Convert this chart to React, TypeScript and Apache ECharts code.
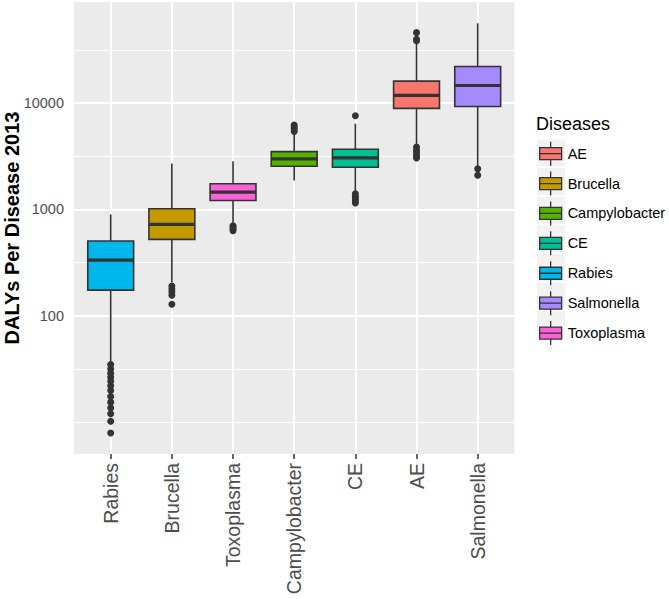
import React, { useEffect, useRef } from 'react';
import * as echarts from 'echarts';

// ---- data (raw DALY values) ----
const X_CATEGORIES = ['Rabies', 'Brucella', 'Toxoplasma', 'Campylobacter', 'CE', 'AE', 'Salmonella'];
const WHISKER_LOW = [36, 205, 750, 1870, 1480, 3920, 2550];
const Q1 = [174, 522, 1213, 2545, 2490, 8900, 9290];
const MEDIAN = [334, 723, 1453, 2985, 3048, 11780, 14620];
const Q3 = [505, 1014, 1740, 3494, 3673, 16070, 22030];
const WHISKER_HIGH = [898, 2700, 2837, 5200, 6400, 36500, 56200];

const OUTLIERS_RABIES = [34.7, 31.6, 28.8, 26.4, 24.2, 22.0, 19.8, 17.4, 15.4, 13.6, 12.0, 10.2, 7.9];
const OUTLIERS_BRUCELLA = [190, 178, 167, 156, 128];
const OUTLIERS_TOXOPLASMA = [700, 680, 655, 630];
const OUTLIERS_CAMPYLOBACTER = [5400, 5700, 5950, 6200];
const OUTLIERS_CE = [7600, 1400, 1330, 1260, 1200, 1150];
const OUTLIERS_AE = [45900, 39800, 38600, 3850, 3600, 3400, 3200, 3050];
const OUTLIERS_SALMONELLA = [2404, 2094];

const LEGEND_ORDER = ['AE', 'Brucella', 'Campylobacter', 'CE', 'Rabies', 'Salmonella', 'Toxoplasma'];
const LEGEND_COLORS = ['#F8766D', '#C49A00', '#53B400', '#00C094', '#00B6EB', '#A58AFF', '#FB61D7'];

const Y_LABEL_VALUES = [100, 1000, 10000];
const Y_MINOR_VALUES = [10, 31.62, 316.2, 3162, 31623];
const Y_MIN = 5.01;
const Y_MAX = 89125;
const Y_TITLE = 'DALYs Per Disease 2013';
const LEGEND_TITLE = 'Diseases';

// ---- styling ----
const FONT = '"Liberation Sans", Arial, Helvetica, sans-serif';
const DARK = '#333333';
const BOX_WIDTH = 0.75;
const LEGEND_LEFT = 539;
const LEGEND_TOP = 141;
const LEGEND_ITEM = 24;
const LEGEND_GAP = 4.6;

const lg = (v: number) => Math.log10(v);

export default function App() {
  const ref = useRef<HTMLDivElement>(null);

  useEffect(() => {
    if (!ref.current) return;
    const chart = echarts.init(ref.current, undefined, { renderer: 'svg' });

    const outlierLists = [
      OUTLIERS_RABIES,
      OUTLIERS_BRUCELLA,
      OUTLIERS_TOXOPLASMA,
      OUTLIERS_CAMPYLOBACTER,
      OUTLIERS_CE,
      OUTLIERS_AE,
      OUTLIERS_SALMONELLA,
    ];
    const outlierData: number[][] = [];
    outlierLists.forEach((list, i) => list.forEach((v) => outlierData.push([i, lg(v)])));

    const renderBox = (params: any, api: any) => {
      const x = api.value(0);
      const lo = api.coord([x, api.value(1)]);
      const q1 = api.coord([x, api.value(2)]);
      const med = api.coord([x, api.value(3)]);
      const q3 = api.coord([x, api.value(4)]);
      const hi = api.coord([x, api.value(5)]);
      const w = api.size([BOX_WIDTH, 0])[0];
      const cx = lo[0];
      const left = cx - w / 2;
      const fill = api.visual('color');
      return {
        type: 'group',
        children: [
          { type: 'line', shape: { x1: cx, y1: hi[1], x2: cx, y2: q3[1] }, style: { stroke: DARK, lineWidth: 1.6 } },
          { type: 'line', shape: { x1: cx, y1: q1[1], x2: cx, y2: lo[1] }, style: { stroke: DARK, lineWidth: 1.6 } },
          {
            type: 'rect',
            shape: { x: left, y: q3[1], width: w, height: q1[1] - q3[1] },
            style: { fill, stroke: DARK, lineWidth: 1.6 },
          },
          {
            type: 'line',
            shape: { x1: left, y1: med[1], x2: left + w, y2: med[1] },
            style: { stroke: DARK, lineWidth: 3.2 },
          },
        ],
      };
    };

    const boxSeries = X_CATEGORIES.map((name, i) => {
      const color = LEGEND_COLORS[LEGEND_ORDER.indexOf(name)];
      return {
        type: 'custom',
        name,
        z: 3,
        itemStyle: { color },
        encode: { x: 0, y: [1, 2, 3, 4, 5] },
        renderItem: renderBox,
        data: [[i, lg(WHISKER_LOW[i]), lg(Q1[i]), lg(MEDIAN[i]), lg(Q3[i]), lg(WHISKER_HIGH[i])]],
      };
    });

    const gridLines: any[] = [];
    Y_LABEL_VALUES.forEach((v) => gridLines.push({ yAxis: lg(v), lineStyle: { width: 2 } }));
    Y_MINOR_VALUES.forEach((v) => gridLines.push({ yAxis: lg(v), lineStyle: { width: 1 } }));
    X_CATEGORIES.forEach((_, i) => gridLines.push({ xAxis: i, lineStyle: { width: 2 } }));

    // light-grey key backgrounds, as in ggplot legends
    const keyBackgrounds = LEGEND_ORDER.map((_, i) => ({
      type: 'rect',
      z: -1,
      silent: true,
      shape: {
        x: LEGEND_LEFT - 2,
        y: LEGEND_TOP + i * (LEGEND_ITEM + LEGEND_GAP) - 1.5,
        width: LEGEND_ITEM + 4,
        height: LEGEND_ITEM + 3,
      },
      style: { fill: '#F2F2F2' },
    }));

    const yTitle = {
      type: 'text',
      x: 11.5,
      y: 228,
      rotation: Math.PI / 2,
      silent: true,
      style: {
        text: Y_TITLE,
        fill: '#000',
        font: `bold 20px ${FONT}`,
        align: 'center',
        verticalAlign: 'middle',
      },
    };

    const option: any = {
      animation: false,
      backgroundColor: '#ffffff',
      textStyle: { fontFamily: FONT },
      title: [
        {
          text: LEGEND_TITLE,
          left: 536,
          top: 115,
          padding: 0,
          textStyle: { fontSize: 18, fontWeight: 'normal', color: '#000', fontFamily: FONT },
        },
      ],
      graphic: [...keyBackgrounds, yTitle],
      legend: {
        orient: 'vertical',
        left: LEGEND_LEFT,
        top: LEGEND_TOP,
        padding: 0,
        itemWidth: LEGEND_ITEM,
        itemHeight: LEGEND_ITEM,
        itemGap: LEGEND_GAP,
        data: LEGEND_ORDER,
        icon: 'path://M12,0V6M1,6H23V18H1ZM1,12H23M12,18V24',
        itemStyle: { borderColor: DARK, borderWidth: 1.3 },
        textStyle: { fontSize: 14.5, color: '#000', fontFamily: FONT },
        selectedMode: false,
      },
      grid: {
        left: 74,
        right: 154.6,
        top: 2,
        bottom: 145,
        show: true,
        containLabel: false,
        outerBoundsMode: 'none',
        backgroundColor: '#EBEBEB',
        borderWidth: 0,
      },
      xAxis: {
        type: 'value',
        min: -0.6,
        max: X_CATEGORIES.length - 0.4,
        axisLine: { show: false },
        splitLine: { show: false },
        axisTick: {
          show: true,
          length: 5,
          lineStyle: { color: DARK, width: 1.5 },
          customValues: X_CATEGORIES.map((_, i) => i),
        },
        axisLabel: {
          show: true,
          rotate: 90,
          margin: 9,
          fontSize: 19.5,
          color: '#4D4D4D',
          fontFamily: FONT,
          customValues: X_CATEGORIES.map((_, i) => i),
          formatter: (v: number) => X_CATEGORIES[Math.round(v)] ?? '',
        },
      },
      yAxis: {
        type: 'value',
        min: lg(Y_MIN),
        max: lg(Y_MAX),
        axisLine: { show: false },
        splitLine: { show: false },
        axisTick: {
          show: true,
          length: 5,
          lineStyle: { color: DARK, width: 1.5 },
          customValues: Y_LABEL_VALUES.map(lg),
        },
        axisLabel: {
          show: true,
          margin: 10,
          fontSize: 14.5,
          color: '#4D4D4D',
          fontFamily: FONT,
          customValues: Y_LABEL_VALUES.map(lg),
          formatter: (v: number) => String(Math.round(Math.pow(10, v))),
        },
      },
      series: [
        {
          type: 'line',
          name: '__grid',
          data: [],
          silent: true,
          markLine: {
            z: 1,
            silent: true,
            symbol: ['none', 'none'],
            label: { show: false },
            lineStyle: { color: '#ffffff', type: 'solid' },
            emphasis: { disabled: true },
            data: gridLines,
          },
        },
        ...boxSeries,
        {
          type: 'scatter',
          name: '__outliers',
          z: 4,
          symbolSize: 7,
          itemStyle: { color: DARK, opacity: 1 },
          data: outlierData,
          silent: true,
        },
      ],
    };

    chart.setOption(option);
    return () => chart.dispose();
  }, []);

  return (
    <div
      ref={ref}
      style={{ position: 'fixed', left: 0, top: 0, width: 669, height: 599 }}
    />
  );
}
